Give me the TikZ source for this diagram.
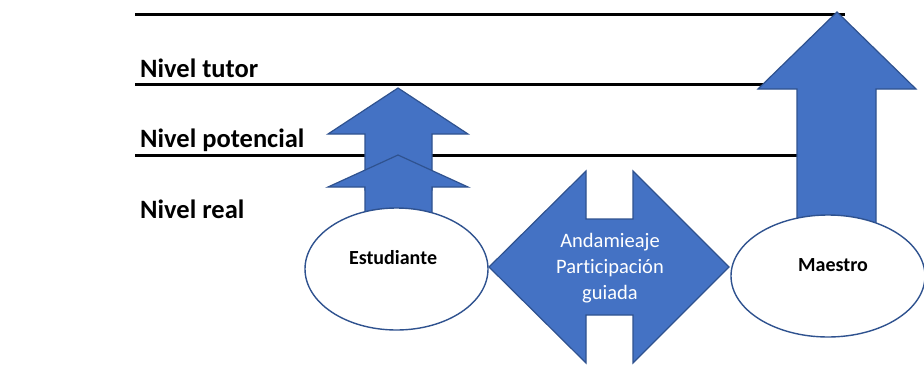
\documentclass[tikz,border=0pt]{standalone}
\usepackage{fontspec}
\setmainfont[Ligatures=NoCommon]{Carlito}
\usepackage{tikz}
\usetikzlibrary{arrows,shapes}
\usetikzlibrary{positioning}
\definecolor{azul}{HTML}{4472C4}
\definecolor{azulosc}{HTML}{2F528F}
\tikzset{
    nivel/.style={draw=black, line width=3pt},
    niveltexto/.style={anchor=base west, inner sep=0pt, font=\bfseries\fontsize{26.5}{28}\selectfont},
    flecha/.style={fill=azul, draw=azulosc, line width=1.2pt, line join=miter},
    persona/.style={ellipse, draw=azulosc, fill=white, line width=1.4pt, inner sep=0pt},
    personatexto/.style={anchor=base, inner sep=0pt, font=\bfseries\fontsize{20}{22}\selectfont},
    andamio/.style={text=white, anchor=base, inner sep=0pt, font=\fontsize{20.5}{24}\selectfont},
}
\begin{document}
\begin{tikzpicture}[x=1pt, y=-1pt]
		\useasboundingbox (0,0) rectangle (924,386);
		% niveles
		\coordinate (n0a) at (135,14);  \coordinate (n0b) at (845,14);
		\coordinate (n1a) at (135,84);  \coordinate (n1b) at (845,84);
		\coordinate (n2a) at (135,155); \coordinate (n2b) at (845,155);
		\draw[nivel] (n0a) -- (n0b);
		\draw[nivel] (n1a) -- (n1b);
		\draw[nivel] (n2a) -- (n2b);
		\node[niveltexto] (tutor) at (140,77) {Nivel tutor};
		\node[niveltexto] (potencial) at (140,147) {Nivel potencial};
		\node[niveltexto] (real) at (140,218) {Nivel real};
		%
		\draw[flecha] (365,190) -- (365,134) -- (328,134) -- (398,88) -- (468,134)
			-- (432,134) -- (432,190) -- cycle;
		\draw[flecha] (365,240) -- (365,187) -- (328,187) -- (398,155) -- (468,187)
			-- (432,187) -- (432,240) -- cycle;
		\draw[flecha] (797,240) -- (797,89) -- (758,89) -- (837,12) -- (916,89)
			-- (876,89) -- (876,240) -- cycle;
		%
		\node[persona, minimum width=183pt, minimum height=122pt] (estudiante) at (396.5,269) {};
		\node[personatexto] (estudiantetexto) at (393,264) {Estudiante};
		\node[persona, minimum width=194pt, minimum height=122pt] (maestro) at (828,276) {};
		\node[personatexto] (maestrotexto) at (833,271) {Maestro};
		%
		\draw[flecha] (489,267) -- (586,171) -- (586,219) -- (633,219) -- (633,171)
			-- (729,267) -- (633,363) -- (633,315) -- (586,315) -- (586,363) -- cycle;
		\node[andamio] (andamio1) at (610,247) {Andamieaje};
		\node[andamio] (andamio2) at (610,273) {Participación};
		\node[andamio] (andamio3) at (610,299) {guiada};
	\end{tikzpicture}
\end{document}
